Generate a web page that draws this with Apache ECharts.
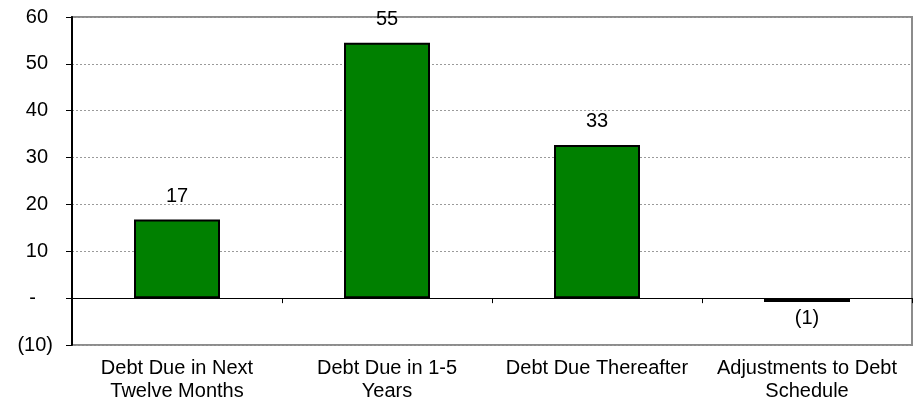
<!DOCTYPE html>
<html>
<head>
<meta charset="utf-8">
<script src="https://cdn.jsdelivr.net/npm/echarts@6/dist/echarts.min.js"></script>
<style>
html,body{margin:0;padding:0;background:#fff;}
#chart{width:914px;height:406px;}
</style>
</head>
<body>
<div id="chart"></div>
<script>
// ---- data ----
const categories = [
  'Debt Due in Next\nTwelve Months',
  'Debt Due in 1-5\nYears',
  'Debt Due Thereafter',
  'Adjustments to Debt\nSchedule'
];
const values = [16.8, 54.5, 32.7, -0.8];
const yMin = -10;
const yMax = 60;
const yStep = 10;

// ---- helpers ----
function fmtAcct(v) {
  const r = Math.round(v);
  if (r === 0) return '-';
  if (r < 0) return '(' + Math.abs(r) + ')';
  return String(r);
}

const FONT = "'Liberation Sans', Arial, sans-serif";
const FS = 20;

const chart = echarts.init(document.getElementById('chart'), null, {renderer: 'canvas'});

const seriesData = values.map(v => {
  const item = {value: v};
  if (v < 0) {
    item.itemStyle = {color: '#000000'};
    item.label = {position: 'bottom', distance: 7};
  }
  return item;
});

chart.setOption({
  animation: false,
  backgroundColor: '#ffffff',
  textStyle: {fontFamily: FONT},
  grid: {
    left: 72, right: 2, top: 17, bottom: 61,
    show: true,
    borderColor: '#8c8c8c',
    borderWidth: 2,
    backgroundColor: 'transparent'
  },
  xAxis: [
    {
      type: 'category',
      data: categories,
      position: 'bottom',
      axisLine: {show: true, onZero: true, lineStyle: {color: '#000', width: 1}},
      axisTick: {show: true, inside: false, length: 5, alignWithLabel: false, lineStyle: {color: '#000', width: 1}},
      axisLabel: {show: false},
      splitLine: {show: false}
    },
    {
      type: 'category',
      data: categories,
      position: 'bottom',
      axisLine: {show: false, onZero: false},
      axisTick: {show: false},
      axisLabel: {
        show: true,
        interval: 0,
        margin: 12,
        color: '#000',
        fontFamily: FONT,
        fontSize: FS,
        lineHeight: 23
      },
      splitLine: {show: false}
    }
  ],
  yAxis: {
    type: 'value',
    min: yMin,
    max: yMax,
    interval: yStep,
    axisLine: {show: true, lineStyle: {color: '#000', width: 2}},
    axisTick: {show: true, inside: false, length: 6, lineStyle: {color: '#000', width: 1}},
    axisLabel: {
      color: '#000',
      fontFamily: FONT,
      fontSize: FS,
      margin: 19,
      formatter: function (v) {
        const s = fmtAcct(v);
        if (v === 0) return '{z|' + s + '}';
        if (v > 0) return '{p|' + s + '}';
        return '{n|' + s + '}';
      },
      rich: {
        p: {fontFamily: FONT, fontSize: FS, color: '#000', padding: [0, 5, 0, 0]},
        z: {fontFamily: FONT, fontSize: FS, color: '#000', padding: [0, 17, 0, 0]},
        n: {fontFamily: FONT, fontSize: FS, color: '#000'}
      }
    },
    splitLine: {
      show: true,
      lineStyle: {color: '#9a9a9a', width: 1, type: [2, 2]}
    }
  },
  series: [
    {
      type: 'bar',
      xAxisIndex: 0,
      yAxisIndex: 0,
      data: seriesData,
      barWidth: 86,
      itemStyle: {color: '#008000', borderColor: '#000000', borderWidth: 2},
      label: {
        show: true,
        position: 'top',
        distance: 13,
        color: '#000',
        fontFamily: FONT,
        fontSize: FS,
        formatter: function (p) { return fmtAcct(p.value); }
      }
    }
  ]
});
</script>
</body>
</html>
